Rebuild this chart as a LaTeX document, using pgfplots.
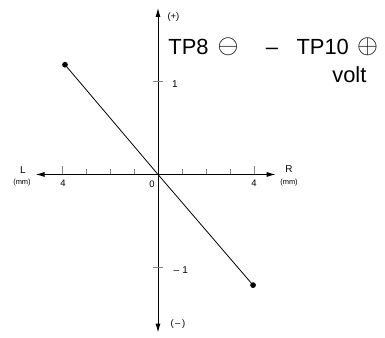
\documentclass[border=0pt]{standalone}
\usepackage{fontspec}
\setmainfont{Liberation Sans}
\usepackage{graphicx}
\usepackage{pgfplots}
\pgfplotsset{compat=1.18}
\usetikzlibrary{arrows.meta}

\begin{document}
\begin{tikzpicture}
\begin{axis}[
  x=24bp, y=93bp,
  xmin=-5.1, xmax=4.9, ymin=-1.70, ymax=1.79,
  axis lines=middle,
  axis line style={line width=0.9pt, {Latex[length=9bp,width=5bp]}-{Latex[length=9bp,width=5bp]}},
  tick align=center,
  major tick length=5bp,
  xtick={-3,-2,-1,1,2,3},
  xticklabels={,,,,,},
  xtick style={line width=0.6pt, yshift=2.5bp},
  extra x ticks={-4,4},
  extra x tick labels={,},
  extra x tick style={major tick length=8bp, xtick style={yshift=1.5bp}},
  ytick=\empty,
  extra y ticks={-1,1},
  extra y tick labels={,},
  extra y tick style={major tick length=10bp, ytick style={line width=0.8pt}},
  clip=false,
]
\addplot[black, line width=0.8pt, mark=*, mark indices={1,3}, mark size=2.4bp,
  mark options={fill=black}] coordinates {(-3.875,1.18) (0,0) (3.96,-1.19)};

\node[anchor=base west, font=\fontsize{22}{24}\selectfont] at (axis cs:0.29,1.285) {TP8};
\node[inner sep=0pt] at (axis cs:2.92,1.371) {\scalebox{2.7}{$\ominus$}};
\node[anchor=base, font=\fontsize{22}{24}\selectfont] at (axis cs:4.75,1.285) {–};
\node[anchor=base west, font=\fontsize{22}{24}\selectfont] at (axis cs:5.625,1.285) {TP10};
\node[inner sep=0pt] at (axis cs:8.73,1.371) {\scalebox{2.7}{$\oplus$}};
\node[anchor=base east, font=\fontsize{22}{24}\selectfont] at (axis cs:8.83,0.984) {volt};

\node[anchor=west, font=\fontsize{9.5}{10}\selectfont] at (axis cs:0.25,1.694) {(+)};
\node[anchor=west, font=\fontsize{9.5}{10}\selectfont] at (axis cs:0.375,-1.608) {(\,–\,)};
\node[font=\fontsize{10}{11}\selectfont] at (axis cs:-5.625,0.048) {L};
\node[font=\fontsize{7.5}{8}\selectfont] at (axis cs:-5.667,-0.091) {(mm)};
\node[font=\fontsize{10}{11}\selectfont] at (axis cs:5.458,0.059) {R};
\node[font=\fontsize{7.5}{8}\selectfont] at (axis cs:5.458,-0.091) {(mm)};
\node[font=\fontsize{9.5}{10}\selectfont] at (axis cs:-3.958,-0.091) {4};
\node[font=\fontsize{9.5}{10}\selectfont] at (axis cs:4.0,-0.091) {4};
\node[font=\fontsize{9.5}{10}\selectfont] at (axis cs:-0.25,-0.11) {0};
\node[font=\fontsize{10}{11}\selectfont] at (axis cs:0.708,0.973) {1};
\node[anchor=west, font=\fontsize{10}{11}\selectfont] at (axis cs:0.5,-1.027) {–\,\,1};

\coordinate (bl) at (axis cs:-6.583,-1.758);
\coordinate (tr) at (axis cs:9.458,1.876);
\end{axis}
\path (bl) rectangle (tr);
\end{tikzpicture}
\end{document}
